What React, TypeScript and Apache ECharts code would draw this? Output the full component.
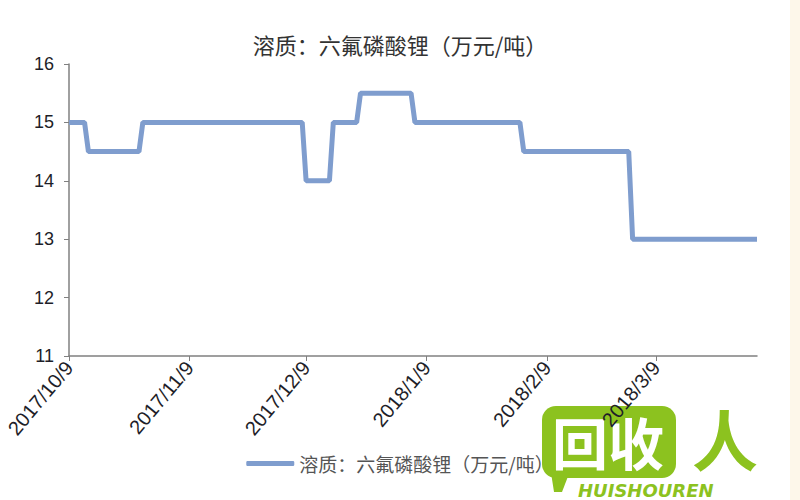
import React, { useEffect, useRef } from "react";
import * as echarts from "echarts";

const seriesName = "溶质：六氟磷酸锂（万元/吨）";
// step points [date, value]
const pointDates = [
  "2017-10-09", "2017-10-13", "2017-10-14", "2017-10-27", "2017-10-28",
  "2017-12-08", "2017-12-09", "2017-12-15", "2017-12-16", "2017-12-22",
  "2017-12-23", "2018-01-05", "2018-01-06", "2018-02-02", "2018-02-03",
  "2018-03-02", "2018-03-03", "2018-04-04",
];
const pointValues = [
  15, 15, 14.5, 14.5, 15,
  15, 14, 14, 15, 15,
  15.5, 15.5, 15, 15, 14.5,
  14.5, 13, 13,
];
const tickDates = ["2017-10-09", "2017-11-09", "2017-12-09", "2018-01-09", "2018-02-09", "2018-03-09"];
const xMinDate = "2017-10-09";
const xMaxDate = "2018-04-04";
const yMin = 11;
const yMax = 16;

const DAY = 86400000;
function toUTC(s: string): number {
  const [y, m, d] = s.split("-").map(Number);
  return Date.UTC(y, m - 1, d);
}
const base = toUTC(xMinDate);
function toDay(s: string): number {
  return Math.round((toUTC(s) - base) / DAY);
}
function dayLabel(v: number): string {
  const d = new Date(base + Math.round(v) * DAY);
  return `${d.getUTCFullYear()}/${d.getUTCMonth() + 1}/${d.getUTCDate()}`;
}

export default function App() {
  const ref = useRef<HTMLDivElement>(null);
  useEffect(() => {
    if (!ref.current) return;
    const chart = echarts.init(ref.current, null, { renderer: "svg" });
    const green = "#8cc21f";
    const tickDays = tickDates.map(toDay);
    chart.setOption({
      animation: false,
      backgroundColor: "#ffffff",
      title: {
        text: seriesName,
        left: "center",
        top: 28,
        textStyle: { fontFamily: "Noto Sans CJK SC", fontSize: 22, fontWeight: "normal", color: "#333" },
      },
      legend: {
        bottom: 22,
        left: "center",
        icon: "roundRect",
        itemWidth: 48,
        itemHeight: 5,
        textStyle: { fontFamily: "Noto Sans CJK SC", fontSize: 19, color: "#555" },
        data: [seriesName],
      },
      grid: { left: 69, right: 43, top: 64, bottom: 144 },
      xAxis: {
        type: "value",
        min: 0,
        max: toDay(xMaxDate),
        splitLine: { show: false },
        axisLine: { lineStyle: { color: "#808080", width: 1.5 } },
        axisTick: { show: true, length: 5, lineStyle: { color: "#808080" }, customValues: tickDays },
        axisLabel: {
          customValues: tickDays,
          rotate: 50,
          margin: 8,
          fontFamily: "Liberation Sans",
          fontSize: 20,
          color: "#1e1e28",
          formatter: (v: number) => dayLabel(v),
        },
      },
      yAxis: {
        type: "value",
        min: yMin,
        max: yMax,
        interval: 1,
        splitLine: { show: false },
        axisLine: { show: true, lineStyle: { color: "#808080", width: 1.5 } },
        axisTick: { show: true, length: 5, lineStyle: { color: "#808080" } },
        axisLabel: { fontFamily: "Liberation Sans", fontSize: 18, color: "#1e1e28", margin: 15 },
      },
      series: [
        {
          name: seriesName,
          type: "line",
          showSymbol: false,
          symbol: "none",
          lineStyle: { width: 5, color: "#7f9dce" },
          itemStyle: { color: "#7f9dce" },
          data: pointDates.map((d, i) => [toDay(d), pointValues[i]]),
        },
      ],
      graphic: [
        { type: "rect", right: 0, top: 0, shape: { width: 10, height: 500 }, style: { fill: "#fdf7ea" }, z: 100 },
        {
          type: "group",
          left: 542,
          top: 404,
          z: 100,
          children: [
            { type: "rect", shape: { x: 0, y: 0, width: 134, height: 72, r: 14 }, style: { fill: green } },
            { type: "polygon", shape: { points: [[8, 60], [30, 60], [20, 86], [12, 86]] }, style: { fill: green } },
            {
              type: "text",
              style: { x: 10, y: 6, text: "回收", fontSize: 56, fontWeight: "bold", fontFamily: "Noto Sans CJK SC", fill: "#ffffff" },
            },
            {
              type: "text",
              style: { x: 150, y: -2, text: "人", fontSize: 66, fontWeight: "bold", fontFamily: "Noto Sans CJK SC", fill: green },
            },
            {
              type: "text",
              style: { x: 36, y: 75, text: "HUISHOUREN", fontSize: 18, fontWeight: "bold", fontStyle: "italic", fontFamily: "DejaVu Sans", fill: green },
            },
          ],
        },
      ],
    });
    return () => chart.dispose();
  }, []);
  return <div ref={ref} style={{ width: 800, height: 500, position: "absolute", left: 0, top: 0 }} />;
}
